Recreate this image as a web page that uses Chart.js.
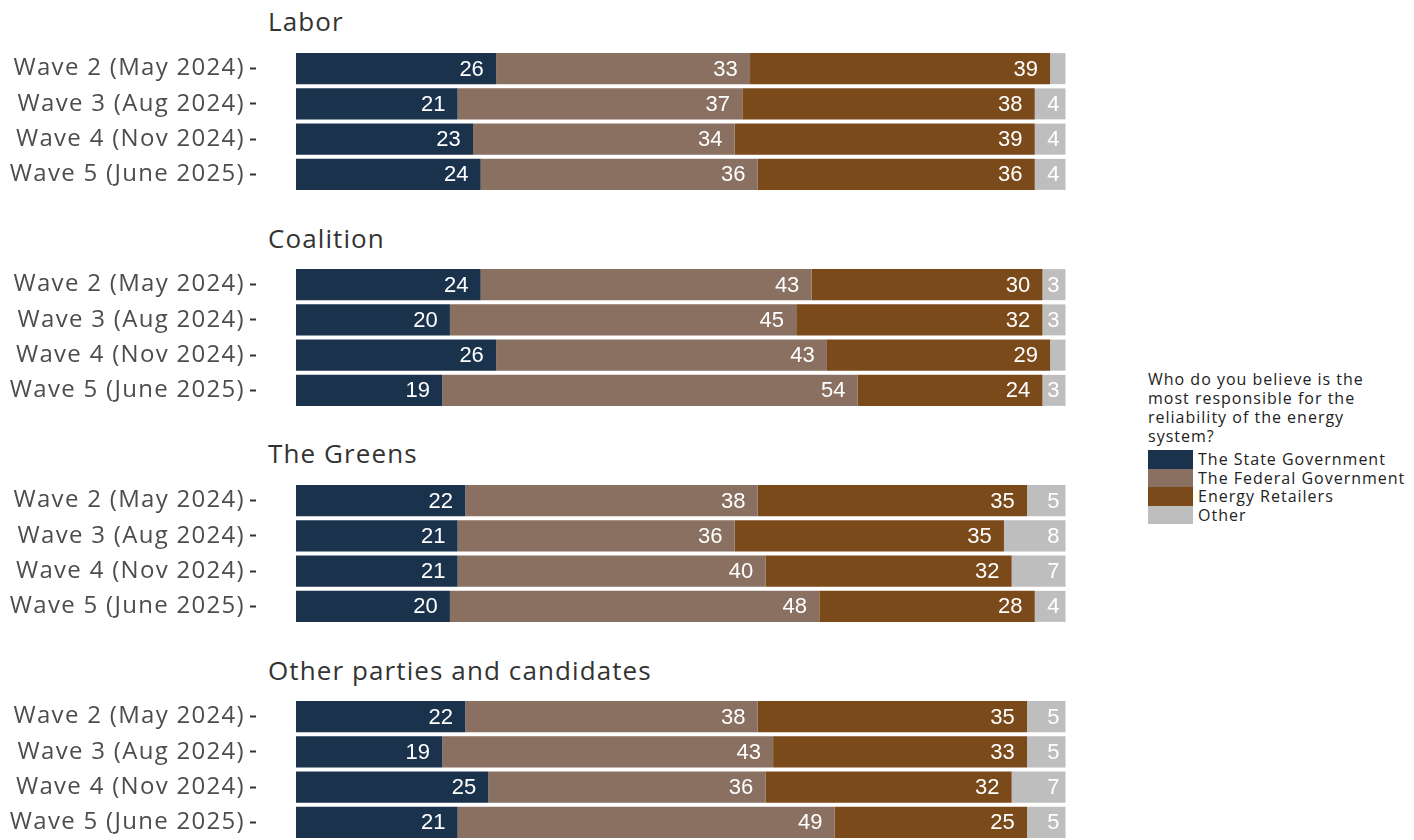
<!DOCTYPE html>
<html>
<head>
<meta charset="utf-8">
<script src="https://cdn.jsdelivr.net/npm/chart.js@4.4.1/dist/chart.umd.min.js"></script>
<style>
  body { margin: 0; background: #fff; width: 1414px; height: 840px; position: relative; overflow: hidden; font-family: "Open Sans", sans-serif; }
  .facet-title { position: absolute; left: 268px; font-size: 26px; line-height: 30px; color: #333; letter-spacing: 1.1px; }
  .panel { position: absolute; left: 0; width: 1104px; height: 141px; }
  #legend { position: absolute; left: 1148px; top: 370px; color: #222; font-size: 16px; letter-spacing: 1px; }
  #legend .ttl { line-height: 19px; margin-bottom: 4px; }
  #legend .row { display: flex; align-items: center; height: 18.5px; }
  #legend .key { width: 45px; height: 18.5px; margin-right: 5px; }
</style>
</head>
<body>
<div id="legend"></div>

<script>
const facets = ['Labor', 'Coalition', 'The Greens', 'Other parties and candidates'];
const waves = ['Wave 2 (May 2024)', 'Wave 3 (Aug 2024)', 'Wave 4 (Nov 2024)', 'Wave 5 (June 2025)'];
const seriesNames = ['The State Government', 'The Federal Government', 'Energy Retailers', 'Other'];
const seriesColors = ['#1b324d', '#8a7060', '#7b4a1b', '#bebebe'];

// values per facet, one row per series, ordered by wave
const labor = [
  [26, 21, 23, 24],
  [33, 37, 34, 36],
  [39, 38, 39, 36],
  [2, 4, 4, 4]
];
const coalition = [
  [24, 20, 26, 19],
  [43, 45, 43, 54],
  [30, 32, 29, 24],
  [3, 3, 2, 3]
];
const greens = [
  [22, 21, 21, 20],
  [38, 36, 40, 48],
  [35, 35, 32, 28],
  [5, 8, 7, 4]
];
const others = [
  [22, 19, 25, 21],
  [38, 43, 36, 49],
  [35, 33, 32, 25],
  [5, 5, 7, 5]
];
const facetValues = [labor, coalition, greens, others];

const panelTops = [51, 267, 483, 699];
const titleTops = [6, 223, 438, 655];

const legendTitle = ['Who do you believe is the', 'most responsible for the', 'reliability of the energy', 'system?'];

// legend
const legend = document.getElementById('legend');
const ttl = document.createElement('div');
ttl.className = 'ttl';
ttl.innerHTML = legendTitle.join('<br>');
legend.appendChild(ttl);
seriesNames.forEach((name, i) => {
  const row = document.createElement('div');
  row.className = 'row';
  row.innerHTML = '<div class="key" style="background:' + seriesColors[i] + '"></div><span>' + name + '</span>';
  legend.appendChild(row);
});

// wider tracking for the axis labels (the original font runs wide)
const tracking = {
  id: 'tracking',
  beforeDraw(chart) { chart.ctx.letterSpacing = '1.3px'; }
};

// labels sit inside the segment end, pushed in by half their own width
const valueLabels = {
  id: 'valueLabels',
  afterDatasetsDraw(chart) {
    const ctx = chart.ctx;
    ctx.save();
    ctx.letterSpacing = '0px';
    ctx.font = '22px "Liberation Sans", Arial, sans-serif';
    ctx.fillStyle = '#ffffff';
    ctx.textAlign = 'right';
    ctx.textBaseline = 'middle';
    chart.data.datasets.forEach((ds, i) => {
      chart.getDatasetMeta(i).data.forEach((bar, j) => {
        const v = ds.data[j];
        if (v < 3) return;
        const txt = String(v);
        const w = ctx.measureText(txt).width;
        ctx.fillText(txt, bar.x - w * 0.5, bar.y + 1);
      });
    });
    ctx.restore();
  }
};

facets.forEach((name, f) => {
  const t = document.createElement('div');
  t.className = 'facet-title';
  t.style.top = titleTops[f] + 'px';
  t.textContent = name;
  document.body.appendChild(t);

  const wrap = document.createElement('div');
  wrap.className = 'panel';
  wrap.style.top = panelTops[f] + 'px';
  const c = document.createElement('canvas');
  wrap.appendChild(c);
  document.body.appendChild(wrap);

  new Chart(c, {
    type: 'bar',
    data: {
      labels: waves,
      datasets: seriesNames.map((s, i) => ({
        label: s,
        data: facetValues[f][i],
        backgroundColor: seriesColors[i],
        borderWidth: 0,
        barPercentage: 0.88,
        categoryPercentage: 1
      }))
    },
    options: {
      indexAxis: 'y',
      responsive: true,
      maintainAspectRatio: false,
      animation: false,
      layout: { padding: 0 },
      plugins: {
        legend: { display: false },
        tooltip: { enabled: false }
      },
      scales: {
        x: { stacked: true, min: -5.2, max: 105, display: false },
        y: {
          stacked: true,
          grid: {
            offset: false,
            drawOnChartArea: false,
            drawTicks: true,
            tickLength: 6,
            tickWidth: 2,
            tickColor: '#333'
          },
          border: { display: false },
          ticks: {
            color: '#4d4d4d',
            font: { family: 'Open Sans', size: 24 },
            padding: 5
          },
          afterFit(scale) {
            scale.width = 256;
            scale.paddingTop = 0;
            scale.paddingBottom = 0;
          }
        }
      }
    },
    plugins: [tracking, valueLabels]
  });
});
</script>
</body>
</html>
